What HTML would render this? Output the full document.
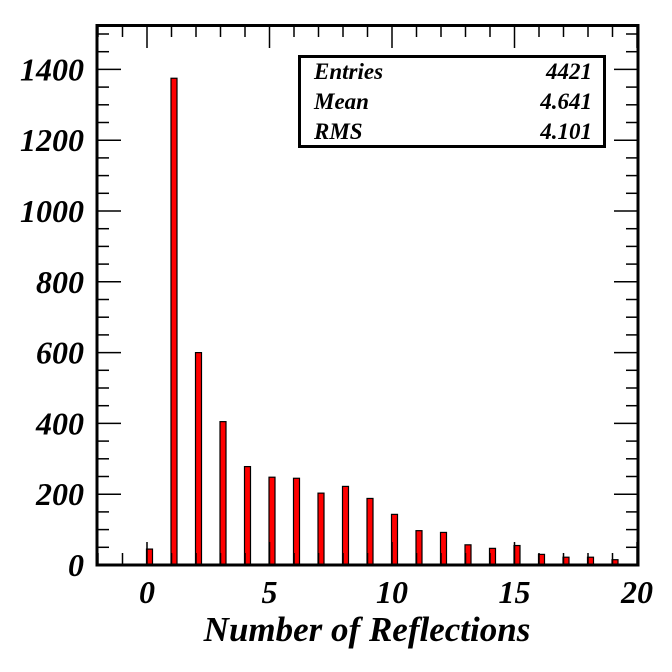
<!DOCTYPE html>
<html><head><style>body{margin:0;background:#fff}svg{display:block}</style></head><body>
<svg width="672" height="672" xmlns="http://www.w3.org/2000/svg" font-family="Liberation Serif, serif" font-style="italic" font-weight="bold">
<rect width="672" height="672" fill="#fff"/>
<g id="bars" fill="#f00" stroke="#000" stroke-width="1.2"></g>
<g id="ticks" stroke="#000" stroke-width="1.5"></g>
<rect x="97" y="25.5" width="541" height="539.5" fill="none" stroke="#000" stroke-width="3"/>
<g font-size="32" text-anchor="end" id="ylab"></g>
<g font-size="32" text-anchor="middle" id="xlab"></g>
<text x="367" y="641" font-size="35" text-anchor="middle">Number of Reflections</text>
<rect x="299.5" y="56.5" width="305" height="90" fill="#fff" stroke="#000" stroke-width="3"/>
<g font-size="23">
<text x="314" y="79">Entries</text><text x="592" y="79" text-anchor="end">4421</text>
<text x="314" y="109">Mean</text><text x="592" y="109" text-anchor="end">4.641</text>
<text x="314" y="139">RMS</text><text x="592" y="139" text-anchor="end">4.101</text>
</g>
<script>
const ns="http://www.w3.org/2000/svg";
const X=v=>147+v*24.5, Y=v=>565-v*0.354;
function el(p,t,a,txt){const e=document.createElementNS(ns,t);for(const k in a)e.setAttribute(k,a[k]);if(txt!=null)e.textContent=txt;document.getElementById(p).appendChild(e);}
const vals=[45,1375,600,405,278,248,245,203,222,188,143,97,92,57,47,55,30,22,22,15];
vals.forEach((v,i)=>el('bars','rect',{x:X(i)-0.5,y:Y(v),width:6,height:565-Y(v)}));
for(let v=0;v<=1500;v+=50){const y=Y(v);const L=v%200==0?24:12;el('ticks','line',{x1:97,y1:y,x2:97+L,y2:y});el('ticks','line',{x1:638,y1:y,x2:638-L,y2:y});}
for(let v=-2;v<=20;v++){const x=X(v);if(x<98||x>637)continue;const L=v%5==0?23:12;el('ticks','line',{x1:x,y1:565,x2:x,y2:565-L});el('ticks','line',{x1:x,y1:25,x2:x,y2:25+L});}
for(let v=0;v<=1400;v+=200)el('ylab','text',{x:84,y:Y(v)+11},String(v));
for(let v=0;v<=20;v+=5)el('xlab','text',{x:X(v),y:603},String(v));
</script>
</svg>
</body></html>
